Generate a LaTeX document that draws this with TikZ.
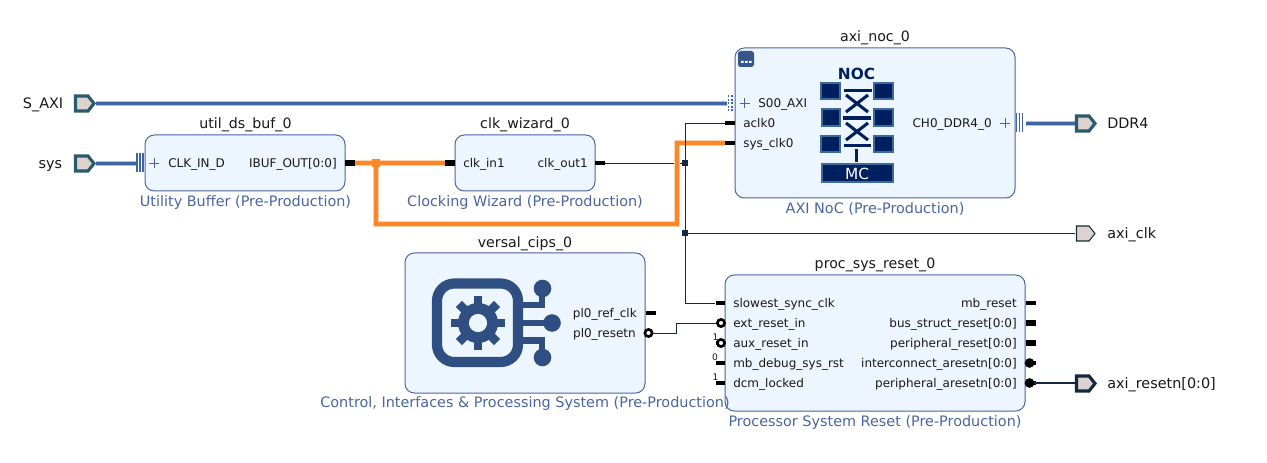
\documentclass[tikz,border=0pt]{standalone}
\usepackage{fontspec}
\setmainfont{DejaVu Sans}
\definecolor{blockfill}{HTML}{EDF5FE}
\definecolor{blockline}{HTML}{4A66A0}
\definecolor{busblue}{HTML}{3F64A4}
\definecolor{bushalo}{HTML}{AFC0DC}
\definecolor{portfill}{HTML}{DDD3CE}
\definecolor{portteal}{HTML}{2A5A6C}
\definecolor{navy}{HTML}{14293F}
\definecolor{orangenet}{HTML}{FD8628}
\definecolor{orangehalo}{HTML}{FDD3AE}
\definecolor{nocblue}{HTML}{001F5F}
\definecolor{nocedge}{HTML}{3C6A9A}
\definecolor{cipsblue}{HTML}{2F4F82}
\tikzset{
 blockbox/.style={draw=blockline,fill=blockfill,line width=.75pt,rounded corners=7pt,inner sep=0pt},
 titletext/.style={font=\fontsize{10.65}{12}\selectfont,text=black!90,inner sep=0pt,anchor=mid},
 subtext/.style={font=\fontsize{10.8}{12}\selectfont,text=blockline,inner sep=0pt,anchor=mid},
 pinleft/.style={font=\fontsize{9}{10}\selectfont,text=black!90,inner sep=0pt,anchor=mid west},
 pinright/.style={font=\fontsize{9}{10}\selectfont,text=black!90,inner sep=0pt,anchor=mid east},
 extleft/.style={font=\fontsize{10.8}{12}\selectfont,text=black!90,inner sep=0pt,anchor=mid east},
 extright/.style={font=\fontsize{10.8}{12}\selectfont,text=black!90,inner sep=0pt,anchor=mid west},
 tie/.style={font=\fontsize{6.8}{8}\selectfont,text=black!90,inner sep=0pt,anchor=mid},
 stub/.style={line width=2.3pt,draw=black},
 fatstub/.style={line width=3.8pt,draw=black},
 thinnet/.style={line width=.7pt,draw=navy},
 busnet/.style={line width=2.7pt,draw=busblue},
 bushalonet/.style={line width=3.7pt,draw=bushalo},
 clocknet/.style={line width=3.5pt,draw=orangenet,line join=miter},
 clockhalo/.style={line width=4.6pt,draw=orangehalo,line join=miter},
 junction/.style={fill=navy,draw=none,minimum size=3.8pt,inner sep=0pt,rectangle},
 bubbleopen/.style={circle,draw=black,fill=white,line width=2pt,minimum size=5.4pt,inner sep=0pt},
 bubblefull/.style={circle,draw=black,fill=black,line width=.8pt,minimum size=6.4pt,inner sep=0pt},
 plus/.style={line width=.7pt,draw=blockline},
 bustick/.style={line width=1.2pt,draw=busblue},
 nocsq/.style={fill=nocblue,draw=nocedge,line width=1.5pt},
 nocbar/.style={draw=nocblue,line width=2.3pt},
 cipsline/.style={draw=cipsblue,line width=5.2pt},
}
\newcommand{\extport}[4]{% x, y, border colour, border width
 \draw[fill=portfill,draw=#3,line width=#4,line join=miter]
 (#1+1.5,#2-7) -- (#1+14,#2-7) -- (#1+20,#2+.5) -- (#1+14,#2+8) -- (#1+1.5,#2+8) -- cycle;}
\newcommand{\plussign}[2]{\draw[plus] (#1-5,#2) -- (#1+5,#2) (#1,#2-5) -- (#1,#2+5);}
\newcommand{\threeticks}[2]{\draw[bustick] (#1,#2-9.5) -- (#1,#2+9.5) (#1+3,#2-9.5) -- (#1+3,#2+9.5) (#1+6,#2-9.5) -- (#1+6,#2+9.5);}
\begin{document}
\begin{tikzpicture}[x=.75pt,y=-.75pt]
\useasboundingbox (0,0) rectangle (1267,463);
\fill[white] (0,0) rectangle (1267,463);

% blocks
\node[blockbox,minimum width=150pt,minimum height=42pt] (util) at (245,163) {};
\node[blockbox,minimum width=105pt,minimum height=42pt] (wiz) at (525,163) {};
\node[blockbox,minimum width=210pt,minimum height=112.5pt] (noc) at (875,123) {};
\node[blockbox,minimum width=180pt,minimum height=105pt] (cips) at (525,323) {};
\node[blockbox,minimum width=225pt,minimum height=102pt] (rst) at (875,343) {};

% block titles and subtitles
\node[titletext] (t1) at (245.5,125) {util\_ds\_buf\_0};
\node[titletext] (t2) at (525,125) {clk\_wizard\_0};
\node[titletext] (t3) at (875,38) {axi\_noc\_0};
\node[titletext] (t4) at (525,243.5) {versal\_cips\_0};
\node[titletext] (t5) at (875,265) {proc\_sys\_reset\_0};
\node[subtext] (s1) at (245.5,202.5) {Utility Buffer (Pre-Production)};
\node[subtext] (s2) at (525,202.5) {Clocking Wizard (Pre-Production)};
\node[subtext] (s3) at (875,209.5) {AXI NoC (Pre-Production)};
\node[subtext] (s4) at (525,404) {Control, Interfaces \& Processing System (Pre-Production)};
\node[subtext] (s5) at (875,422.5) {Processor System Reset (Pre-Production)};

% external ports
\node[extleft] (lsaxi) at (63.5,104.5) {S\_AXI};
\node[extleft] (lsys) at (62.5,164.5) {sys};
\node[extright] (lddr) at (1107,124.5) {DDR4};
\node[extright] (lclk) at (1107,234.5) {axi\_clk};
\node[extright] (lrstn) at (1107,384.5) {axi\_resetn[0:0]};

% connection points
\coordinate (psaxi) at (96,103.5);
\coordinate (nocs00) at (727,103.5);
\coordinate (psys) at (96,163.5);
\coordinate (utilin) at (137,163.5);
\coordinate (nocddr) at (1026,123.5);
\coordinate (pddr) at (1075,123.5);
\coordinate (pclk) at (1075,233);
\coordinate (prstn) at (1075,383);
\coordinate (utilout) at (355,163);
\coordinate (wizin) at (445,163);
\coordinate (wizout) at (605,163);
\coordinate (nocaclk) at (725,123);
\coordinate (nocsys) at (725,143);
\coordinate (rstslow) at (715,303);
\coordinate (corbot) at (376,224);
\coordinate (cortop) at (677,224);
\coordinate (corsys) at (677,143);
\coordinate (ctop) at (685,123);
\coordinate (cbot) at (685,303);
\node[junction] (j1) at (685,163) {};
\node[junction] (j2) at (685,233) {};
\node[rectangle,fill=orangenet,minimum size=6.5pt,inner sep=0pt] (j3) at (376,163) {};
\coordinate (rbend1) at (676,333);
\coordinate (rbend2) at (676,323);

% stubs
\draw[fatstub] (345,163) -- (355,163);
\draw[fatstub] (445,163) -- (455,163);
\draw[stub] (595,163) -- (605,163);
\draw[stub] (725,123) -- (735,123);
\draw[stub] (725,143) -- (735,143);
\draw[stub] (646,313) -- (656,313);
\draw[stub] (716,303) -- (725,303);
\draw[stub] (716,363) -- (725,363);
\draw[stub] (716,383) -- (725,383);
\draw[stub] (1026,303) -- (1036,303);
\draw[fatstub] (1026,323) -- (1036,323);
\draw[fatstub] (1026,343) -- (1036,343);
\draw[stub] (1026,363) -- (1036,363);
\draw[stub] (1026,383) -- (1036,383);

% nets
\draw[bushalonet] (psaxi) -- (nocs00);
\draw[busnet] (psaxi) -- (nocs00);
\draw[bushalonet] (psys) -- (utilin);
\draw[busnet] (psys) -- (utilin);
\draw[bushalonet] (nocddr) -- (pddr);
\draw[busnet] (nocddr) -- (pddr);
\draw[thinnet] (wizout) -- (j1);
\draw[thinnet] (nocaclk) -- (ctop) -- (cbot) -- (rstslow);
\draw[thinnet] (j2) -- (pclk);
\draw[clockhalo] (utilout) -- (wizin);
\draw[clockhalo] (j3.center) -- (corbot) -- (cortop) -- (corsys) -- (nocsys);
\draw[clocknet] (utilout) -- (wizin);
\draw[clocknet] (j3.center) -- (corbot) -- (cortop) -- (corsys) -- (nocsys);
\draw[thinnet] (ctop) -- (cbot);
\node[junction] at (j1) {};
\node[junction] at (j2) {};
\node[rectangle,fill=orangenet,minimum size=6.5pt,inner sep=0pt] at (j3) {};

% bubbles
\node[bubbleopen] (bres) at (648.5,333) {};
\node[bubbleopen] (bext) at (721,323) {};
\node[bubbleopen] (baux) at (721,343) {};
\draw[stub] (715.5,343) -- (718,343);
\draw[thinnet] (bres) -- (rbend1) -- (rbend2) -- (bext);
\node[bubblefull] (bic) at (1029.5,363) {};
\node[bubblefull] (bpe) at (1029.5,383) {};
\draw[line width=2.2pt,draw=navy] (bpe) -- (prstn);

% external port shapes
\extport{74}{103}{portteal}{2.3pt}
\extport{74}{163}{portteal}{2.3pt}
\extport{1075}{123}{portteal}{2.3pt}
\extport{1075}{233}{navy}{.8pt}
\extport{1075}{383}{navy}{2.3pt}

% interface markers
\threeticks{137}{163}
\threeticks{1016.5}{123}
\fill[white] (726.5,94) rectangle (733.5,112);
\foreach \yy in {95.5,99,102.5,106,109.5} {
 \fill[busblue] (727.5,\yy) rectangle (729,\yy+2);
 \fill[busblue] (731,\yy) rectangle (732.5,\yy+2);
}
\plussign{154}{163}
\plussign{744.5}{103}
\plussign{1005}{123}

% pin labels
\node[pinleft] (p1) at (168,164) {CLK\_IN\_D};
\node[pinright] (p2) at (337,164) {IBUF\_OUT[0:0]};
\node[pinleft] (p3) at (463,164) {clk\_in1};
\node[pinright] (p4) at (588,164) {clk\_out1};
\node[pinleft] (p5) at (758,104) {S00\_AXI};
\node[pinleft] (p6) at (743,124) {aclk0};
\node[pinleft] (p7) at (743,144) {sys\_clk0};
\node[pinright] (p8) at (992,124) {CH0\_DDR4\_0};
\node[pinright] (p9) at (637,314) {pl0\_ref\_clk};
\node[pinright] (p10) at (636,334) {pl0\_resetn};
\node[pinleft] (p11) at (733,304) {slowest\_sync\_clk};
\node[pinleft] (p12) at (733,324) {ext\_reset\_in};
\node[pinleft] (p13) at (733,344) {aux\_reset\_in};
\node[pinleft] (p14) at (733,364) {mb\_debug\_sys\_rst};
\node[pinleft] (p15) at (733,384) {dcm\_locked};
\node[pinright] (p16) at (1017,304) {mb\_reset};
\node[pinright] (p17) at (1017,324) {bus\_struct\_reset[0:0]};
\node[pinright] (p18) at (1017,344) {peripheral\_reset[0:0]};
\node[pinright] (p19) at (1017,364) {interconnect\_aresetn[0:0]};
\node[pinright] (p20) at (1017,384) {peripheral\_aresetn[0:0]};
\node[tie] (c1) at (715.5,337) {1};
\node[tie] (c2) at (715,357) {0};
\node[tie] (c3) at (715.5,377) {1};

% NoC corner badge
\fill[busblue!85!black,rounded corners=2pt] (738,51) rectangle (754,67);
\fill[white] (741,61) rectangle (743.5,63) (745,61) rectangle (747.5,63) (749,61) rectangle (751.5,63);

% NoC icon
\node[inner sep=0pt,font=\bfseries\fontsize{11.5}{12}\selectfont,text=nocblue] (noct) at (856.5,73.5) {NOC};
\foreach \ax/\ay/\bx/\by in {821/83/840/99.5, 822/109/840/126, 821/136/840/152.5, 874/83/893/99.5, 874/109/893/126, 874/136/893/152.5}
 \draw[nocsq] (\ax,\ay) rectangle (\bx,\by);
\draw[nocbar] (844,90.5) -- (872,90.5);
\draw[nocbar] (843,118) -- (871,118);
\draw[nocbar] (844,145.5) -- (871,145.5);
\draw[nocbar] (846,95) -- (868,112) (868,95) -- (846,112);
\draw[nocbar] (846,123) -- (868,140) (868,123) -- (846,140);
\draw[nocbar] (856.5,149) -- (856.5,162);
\draw[nocsq] (822,164) rectangle (893,182.5);
\node[inner sep=0pt,font=\fontsize{11.5}{12}\selectfont,text=white] (mct) at (857,174) {MC};

% CIPS icon
\draw[draw=cipsblue,line width=7.6pt,rounded corners=13pt] (437,283.5) rectangle (518,362);
\draw[cipsline] (518,305) -- (542,305) -- (542,290);
\draw[cipsline] (518,323) -- (552,323);
\draw[cipsline] (518,340.5) -- (542,340.5) -- (542,356);
\fill[cipsblue] (542.5,288.5) circle[radius=6.6pt];
\fill[cipsblue] (552,323) circle[radius=6.6pt];
\fill[cipsblue] (542.5,357.5) circle[radius=6.6pt];
\fill[cipsblue] (478,323) circle[radius=15pt];
\foreach \a in {0,45,...,315}
 \draw[draw=cipsblue,line width=6.5pt] (478,323) ++(\a:18) -- ++(\a:9);
\fill[blockfill] (478,323) circle[radius=6.8pt];
\end{tikzpicture}
\end{document}
